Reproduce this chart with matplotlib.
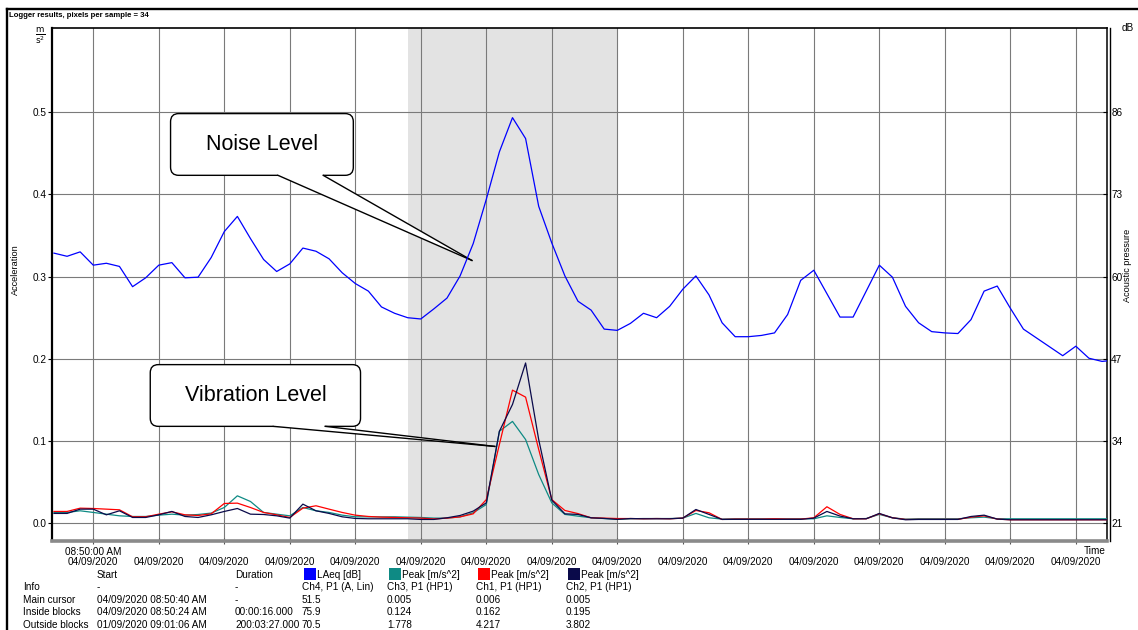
import numpy as np
import matplotlib.pyplot as plt
from matplotlib.patches import FancyBboxPatch, Polygon, Rectangle
from matplotlib.lines import Line2D

plt.rcParams['font.family'] = ['Liberation Sans', 'DejaVu Sans']

W, H = 1138, 630

# one logger sample per second, seconds counted from 08:50:00
seconds = np.arange(-3, 79)

laeq_db = [63.7, 63.2, 63.9, 61.8, 62.1, 61.6, 58.4, 59.8, 61.8, 62.2,
           59.8, 59.9, 63.0, 67.1, 69.5, 66.0, 62.7, 60.8, 62.0, 64.5,
           64.0, 62.8, 60.6, 58.9, 57.7, 55.2, 54.2, 53.5, 53.3, 54.9,
           56.6, 60.1, 65.2, 72.2, 79.7, 85.1, 81.8, 71.1, 65.3, 60.1,
           56.1, 54.7, 51.7, 51.5, 52.6, 54.2, 53.5, 55.3, 58.0, 60.1,
           57.1, 52.7, 50.5, 50.5, 50.7, 51.1, 54.0, 59.4, 61.0, 57.3,
           53.6, 53.6, 57.7, 61.8, 59.9, 55.3, 52.7, 51.3, 51.1, 51.0,
           53.2, 57.7, 58.5, 55.0, 51.7, 50.3, 48.9, 47.5, 49.0, 47.1,
           46.6, 46.8]

peak_ch1 = [.0146, .0146, .0186, .0182, .0174, .0166, .0081, .0081, .0113, .0142,
            .0105, .0097, .0117, .0243, .0247, .0194, .0134, .0105, .0073, .0186,
            .0215, .0174, .0134, .0101, .0085, .0077, .0073, .0069, .0065, .0055,
            .0065, .0080, .0117, .0290, .0960, .1620, .1535, .0900, .0290, .0158,
            .0120, .0069, .0065, .0060, .0060, .0057, .0060, .0057, .0065, .0158,
            .0130, .0049, .0053, .0053, .0053, .0057, .0053, .0053, .0069, .0203,
            .0110, .0057, .0057, .0118, .0069, .0049, .0050, .0050, .0050, .0050,
            .0077, .0093, .0053, .0045, .0045, .0045, .0045, .0045, .0045, .0045,
            .0045, .0045]

peak_ch3 = [.0134, .0134, .0154, .0134, .0113, .0093, .0085, .0085, .0101, .0113,
            .0101, .0109, .0126, .0194, .0336, .0267, .0134, .0113, .0093, .0194,
            .0154, .0134, .0101, .0081, .0080, .0080, .0081, .0077, .0073, .0065,
            .0065, .0080, .0130, .0230, .1120, .1240, .1020, .0595, .0250, .0110,
            .0089, .0069, .0060, .0050, .0057, .0060, .0060, .0060, .0065, .0122,
            .0069, .0053, .0057, .0057, .0057, .0057, .0057, .0057, .0057, .0093,
            .0073, .0057, .0060, .0110, .0069, .0053, .0057, .0057, .0057, .0057,
            .0069, .0077, .0057, .0057, .0057, .0057, .0057, .0057, .0057, .0057,
            .0057, .0057]

peak_ch2 = [.0122, .0122, .0174, .0174, .0105, .0154, .0073, .0073, .0105, .0146,
            .0085, .0073, .0105, .0146, .0182, .0113, .0109, .0093, .0065, .0235,
            .0154, .0122, .0081, .0061, .0057, .0057, .0057, .0057, .0049, .0049,
            .0069, .0097, .0150, .0250, .1120, .1446, .1950, .1020, .0284, .0117,
            .0110, .0069, .0061, .0050, .0060, .0057, .0057, .0057, .0065, .0170,
            .0110, .0049, .0050, .0050, .0050, .0050, .0050, .0050, .0065, .0146,
            .0090, .0057, .0057, .0122, .0069, .0045, .0049, .0049, .0049, .0049,
            .0085, .0101, .0053, .0045, .0045, .0045, .0045, .0045, .0045, .0045,
            .0045, .0045]

inside_block = (24, 40)   # 08:50:24 .. 08:50:40

tick_seconds = list(range(0, 80, 5))
tick_labels = ['04/09/2020'] * len(tick_seconds)
first_tick_time = '08:50:00 AM'
acc_ticks = [0.0, 0.1, 0.2, 0.3, 0.4, 0.5]
db_ticks = [21, 34, 47, 60, 73, 86]

table_rows = ['Info', 'Main cursor', 'Inside blocks', 'Outside blocks']
start_col = ['-', '04/09/2020 08:50:40 AM', '04/09/2020 08:50:24 AM', '01/09/2020 09:01:06 AM']
duration_col = ['-', '-', '00:00:16.000', '200:03:27.000']
channel_names = ['LAeq [dB]', 'Peak [m/s^2]', 'Peak [m/s^2]', 'Peak [m/s^2]']
channel_info = ['Ch4, P1 (A, Lin)', 'Ch3, P1 (HP1)', 'Ch1, P1 (HP1)', 'Ch2, P1 (HP1)']
cursor_vals = ['51.5', '0.005', '0.006', '0.005']
inside_vals = ['75.9', '0.124', '0.162', '0.195']
outside_vals = ['70.5', '1.778', '4.217', '3.802']

C_LAEQ, C_CH3, C_CH1, C_CH2 = '#0000ff', '#0e8a84', '#ff0000', '#0a0a4a'
channel_colors = [C_LAEQ, C_CH3, C_CH1, C_CH2]
FS = 7.2


def fx(x):
    return x / W


def fy(y):
    return 1 - y / H


def db_of(acc):
    # right scale is tied to the left one: 0.0 -> 21 dB, 0.5 -> 86 dB
    return 21 + 130 * acc


fig = plt.figure(figsize=(W / 100, H / 100), dpi=100)
AX_L, AX_R, AX_T, AX_B = 52, 1107, 28, 541
ax = fig.add_axes([fx(AX_L), fy(AX_B), (AX_R - AX_L) / W, (AX_B - AX_T) / H])
ax2 = ax.twinx()

xlim = (-3.15, 77.38)
ylim = (-0.0213, 0.602)

ax.axvspan(*inside_block, color='#e3e3e3', lw=0, zorder=0)
ax.plot(seconds, peak_ch3, color=C_CH3, lw=0.9, zorder=3)
ax.plot(seconds, peak_ch1, color=C_CH1, lw=0.9, zorder=3)
ax.plot(seconds, peak_ch2, color=C_CH2, lw=0.9, zorder=3)
ax2.plot(seconds, laeq_db, color=C_LAEQ, lw=0.9)

ax.set_xlim(*xlim)
ax.set_ylim(*ylim)
ax2.set_ylim(db_of(ylim[0]), db_of(ylim[1]))

ax.set_axisbelow(True)
ax.grid(True, color='#7a7a7a', lw=0.8)
ax.set_xticks(tick_seconds)
ax.set_xticklabels(tick_labels, fontsize=FS)
ax.set_yticks(acc_ticks)
ax.set_yticklabels([f'{v:.1f}' for v in acc_ticks], fontsize=FS)
ax2.set_yticks(db_ticks)
ax2.set_yticklabels([str(v) for v in db_ticks], fontsize=FS)

ax.tick_params(axis='x', direction='inout', length=5, width=0.8, color='#555555', pad=9.2)
ax.tick_params(axis='y', direction='out', length=3, width=0.8, pad=1)
ax2.tick_params(axis='y', direction='in', length=3, width=0.8, pad=3)

# time of day only under the first tick, one line above its date
ax.annotate(first_tick_time, xy=(tick_seconds[0], 0), xycoords=('data', 'axes fraction'),
            xytext=(0, -7.7), textcoords='offset points', ha='center', va='center',
            fontsize=FS, annotation_clip=False)

for sp in ax2.spines.values():
    sp.set_visible(False)
ax.spines['left'].set_linewidth(1.6)
ax.spines['top'].set_linewidth(1.2)
ax.spines['right'].set_linewidth(1.1)
ax.spines['bottom'].set_color('#8a8a8a')
ax.spines['bottom'].set_linewidth(2.6)
ax.plot([1.0025, 1.0025], [0, 1], transform=ax.transAxes, color='black',
        lw=1.0, clip_on=False, zorder=6)

# callouts ("Noise Level", "Vibration Level"), placed in data units
ax_w_px, ax_h_px = AX_R - AX_L, AX_B - AX_T
aspect = ((ylim[1] - ylim[0]) / ax_h_px) / ((xlim[1] - xlim[0]) / ax_w_px)


def callout(text, x0, x1, y0, y1, base_l, base_r, tip):
    box = FancyBboxPatch((x0, y0), x1 - x0, y1 - y0,
                         boxstyle='round,pad=0,rounding_size=0.62',
                         mutation_aspect=aspect, fc='white', ec='black',
                         lw=1.0, zorder=10)
    ax.add_patch(box)
    dy = 0.004
    ax.add_patch(Polygon([(base_l, y0 + dy), (base_l, y0), tip, (base_r, y0),
                          (base_r, y0 + dy)], closed=True, fc='white',
                         ec='none', zorder=11))
    ax.plot([base_l, tip[0]], [y0, tip[1]], color='black', lw=1.0, zorder=12)
    ax.plot([base_r, tip[0]], [y0, tip[1]], color='black', lw=1.0, zorder=12)
    ax.text((x0 + x1) / 2, (y0 + y1) / 2, text, ha='center', va='center',
            fontsize=15.5, zorder=13)


callout('Noise Level', 5.9, 19.85, 0.423, 0.498, 14.1, 17.55, (28.9, 0.3196))
callout('Vibration Level', 4.35, 20.4, 0.118, 0.193, 13.75, 17.7, (30.65, 0.0936))

# labels around the plot
fig.text(fx(9), fy(15.5), 'Logger results, pixels per sample = 34',
         fontsize=5.6, fontweight='bold', va='center')
fig.text(fx(40), fy(36), r'$\frac{\mathrm{m}}{\mathrm{s}^2}$', fontsize=9,
         ha='center', va='center')
fig.text(fx(1122), fy(28), 'dB', fontsize=FS, ha='left', va='center')
fig.text(fx(15), fy(270), 'Acceleration', fontsize=6.6, rotation=90,
         ha='center', va='center')
fig.text(fx(1128), fy(265), 'Acoustic pressure', fontsize=6.6, rotation=90,
         ha='center', va='center')
fig.text(fx(1106), fy(551.2), 'Time', fontsize=FS, ha='right', va='center')

# frame round the whole logger view
fig.add_artist(Line2D([fx(7), 1], [fy(9), fy(9)], color='black', lw=1.7))
fig.add_artist(Line2D([fx(7), fx(7)], [fy(9), 0], color='black', lw=1.7))

# info table under the chart, rows packed a little so the last one stays readable
row_y = [574.6 + 12.6 * i for i in range(5)]
col_label, col_start, col_dur = 23, 97, 235
col_ch = [304, 389, 478, 568]
sq = 12

fig.text(fx(col_start), fy(row_y[0]), 'Start', fontsize=FS, va='center')
fig.text(fx(col_dur), fy(row_y[0]), 'Duration', fontsize=FS, va='center')
for cx, name, color in zip(col_ch, channel_names, channel_colors):
    fig.add_artist(Rectangle((fx(cx), fy(row_y[0] + sq / 2 - 0.5)), sq / W, sq / H,
                             transform=fig.transFigure, fc=color, ec='none'))
    fig.text(fx(cx + sq + 1), fy(row_y[0]), name, fontsize=FS, va='center')

ch_rows = [channel_info, cursor_vals, inside_vals, outside_vals]
for i, label in enumerate(table_rows):
    y = fy(row_y[i + 1])
    fig.text(fx(col_label), y, label, fontsize=FS, va='center')
    fig.text(fx(col_start), y, start_col[i], fontsize=FS, va='center')
    fig.text(fx(col_dur), y, duration_col[i], fontsize=FS, va='center')
    for cx, val in zip(col_ch, ch_rows[i]):
        fig.text(fx(cx - 2), y, val, fontsize=FS, va='center')

fig.savefig('out.png', dpi=100)
